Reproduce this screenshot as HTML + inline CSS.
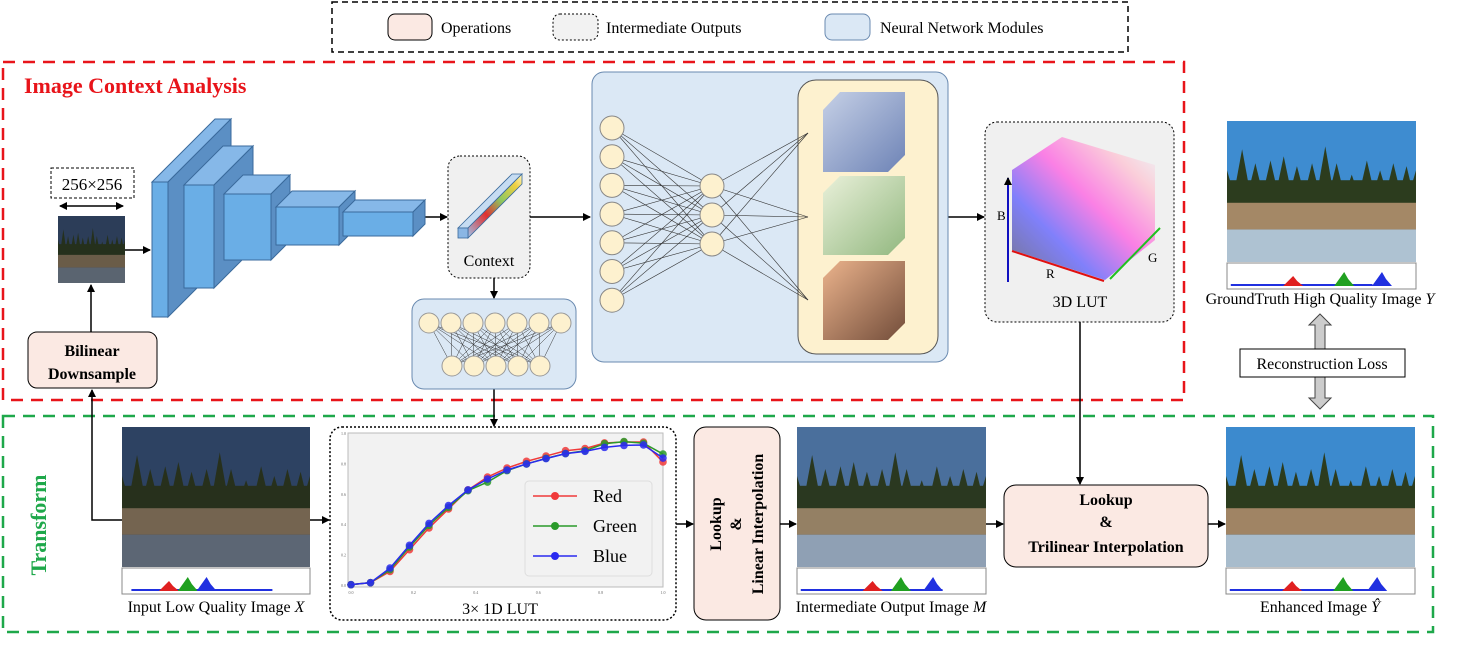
<!DOCTYPE html>
<html><head><meta charset="utf-8"><style>
html,body{margin:0;padding:0;background:#fff;}
svg{display:block;font-family:"Liberation Serif",serif;}
</style></head><body>
<svg id="s" width="1460" height="661" viewBox="0 0 1460 661" xmlns="http://www.w3.org/2000/svg">
<defs>
<marker id="ah" markerWidth="8" markerHeight="8" refX="7" refY="4" orient="auto" markerUnits="userSpaceOnUse"><path d="M0,0 L8,4 L0,8 z" fill="#000"/></marker>
<marker id="ahs" markerWidth="8" markerHeight="8" refX="1" refY="4" orient="auto" markerUnits="userSpaceOnUse"><path d="M8,0 L0,4 L8,8 z" fill="#000"/></marker>
<linearGradient id="ctxg" x1="0" y1="1" x2="1" y2="0"><stop offset="0" stop-color="#9fc2e8"/><stop offset="0.35" stop-color="#e03030"/><stop offset="0.6" stop-color="#8cc860"/><stop offset="0.85" stop-color="#f0d040"/><stop offset="1" stop-color="#fff6c8"/></linearGradient>
<linearGradient id="cubeB" x1="0" y1="0" x2="1" y2="1"><stop offset="0" stop-color="#b8c8ec"/><stop offset="1" stop-color="#4a68b0"/></linearGradient>
<linearGradient id="cubeG" x1="0" y1="0" x2="1" y2="1"><stop offset="0" stop-color="#e4f0dc"/><stop offset="1" stop-color="#78aa6c"/></linearGradient>
<linearGradient id="cubeR" x1="0" y1="0" x2="1" y2="1"><stop offset="0" stop-color="#e8a880"/><stop offset="1" stop-color="#5a3020"/></linearGradient>
<linearGradient id="lutg" x1="0" y1="1" x2="1" y2="0"><stop offset="0" stop-color="#404060"/><stop offset="0.3" stop-color="#5050ff"/><stop offset="0.55" stop-color="#ff50e0"/><stop offset="0.8" stop-color="#ffc0d0"/><stop offset="1" stop-color="#e8ffff"/></linearGradient>
</defs>

<g>
<rect x="332" y="2" width="796" height="50" fill="none" stroke="#000" stroke-width="1.5" stroke-dasharray="6,4"/>
<rect x="388" y="14" width="44" height="26" rx="7" fill="#fbe9e3" stroke="#000"/>
<text x="441" y="33" font-size="16">Operations</text>
<rect x="553" y="14" width="45" height="26" rx="7" fill="#f2f2f2" stroke="#000" stroke-dasharray="2,2"/>
<text x="606" y="33" font-size="16">Intermediate Outputs</text>
<rect x="825" y="14" width="45" height="26" rx="7" fill="#dbe8f5" stroke="#6a8ab0"/>
<text x="880" y="33" font-size="16">Neural Network Modules</text>
</g>

<rect x="3" y="62" width="1181" height="338" fill="none" stroke="#e8141a" stroke-width="2.5" stroke-dasharray="12,8"/>
<text x="24" y="93" font-size="22" font-weight="bold" fill="#e8141a">Image Context Analysis</text>
<rect x="3" y="416" width="1430" height="216" fill="none" stroke="#1ea84a" stroke-width="2.5" stroke-dasharray="12,8"/>
<text transform="translate(46,525) rotate(-90)" text-anchor="middle" font-size="22" font-weight="bold" fill="#1ea84a">Transform</text>

<rect x="51" y="168" width="83" height="30" fill="#fff" stroke="#000" stroke-dasharray="3,2"/>
<text x="92" y="190" font-size="17" text-anchor="middle">256×256</text>
<line x1="60" y1="206" x2="123" y2="206" stroke="#000" stroke-width="1.5" marker-end="url(#ah)" marker-start="url(#ahs)"/>
<g id="photos"></g>
<rect x="28" y="332" width="129" height="56" rx="9" fill="#fbe9e3" stroke="#000"/>
<text x="92" y="356" font-size="16" font-weight="bold" text-anchor="middle">Bilinear</text>
<text x="92" y="379" font-size="16" font-weight="bold" text-anchor="middle">Downsample</text>
<g stroke="#000" stroke-width="1.5" fill="none">
<line x1="91" y1="332" x2="91" y2="285" marker-end="url(#ah)"/>
<polyline points="122,520 92,520 92,390" marker-end="url(#ah)"/>
<line x1="125" y1="250" x2="150" y2="250" marker-end="url(#ah)"/>
<line x1="425" y1="217" x2="447" y2="217" marker-end="url(#ah)"/>
<line x1="530" y1="217" x2="590" y2="217" marker-end="url(#ah)"/>
<line x1="494" y1="278" x2="494" y2="298" marker-end="url(#ah)"/>
<line x1="494" y1="389" x2="494" y2="426" marker-end="url(#ah)"/>
<line x1="948" y1="217" x2="984" y2="217" marker-end="url(#ah)"/>
<line x1="1080" y1="322" x2="1080" y2="484" marker-end="url(#ah)"/>
<line x1="310" y1="520" x2="329" y2="520" marker-end="url(#ah)"/>
<line x1="676" y1="524" x2="693" y2="524" marker-end="url(#ah)"/>
<line x1="780" y1="524" x2="796" y2="524" marker-end="url(#ah)"/>
<line x1="986" y1="524" x2="1003" y2="524" marker-end="url(#ah)"/>
<line x1="1208" y1="524" x2="1225" y2="524" marker-end="url(#ah)"/>
</g>
<g id="cnn"></g>

<rect x="448" y="156" width="82" height="122" rx="12" fill="#f0f0f0" stroke="#000" stroke-dasharray="2,2"/>
<polygon points="458,228 512,174 522,174 468,228" fill="#c6dcf2" stroke="#3a6a9c" stroke-width="0.8"/>
<polygon points="468,228 522,174 522,184 468,238" fill="url(#ctxg)" stroke="#3a6a9c" stroke-width="0.8"/>
<rect x="458" y="228" width="10" height="10" fill="#8ab6e4" stroke="#3a6a9c" stroke-width="0.8"/>
<text x="489" y="266" font-size="16" text-anchor="middle">Context</text>

<rect x="412" y="299" width="164" height="90" rx="12" fill="#dbe8f5" stroke="#6a8ab0"/>
<g id="smallnn"></g>

<rect x="592" y="72" width="356" height="290" rx="12" fill="#dbe8f5" stroke="#6a8ab0"/>
<rect x="798" y="80" width="140" height="274" rx="18" fill="#fdf1cf" stroke="#555"/>
<g id="bignn"></g>
<g>
<polygon points="823,110 840,92 905,92 905,155 888,172 823,172" fill="url(#cubeB)" opacity="0.8"/>
<polygon points="823,193 840,176 905,176 905,238 888,255 823,255" fill="url(#cubeG)" opacity="0.8"/>
<polygon points="823,278 840,261 905,261 905,323 888,340 823,340" fill="url(#cubeR)" opacity="0.85"/>
</g>

<rect x="985" y="122" width="189" height="200" rx="12" fill="#f0f0f0" stroke="#000" stroke-dasharray="2,2"/>
<polygon points="1012,170 1062,137 1155,165 1155,240 1105,280 1012,250" fill="url(#lutg)" opacity="0.7"/>
<g stroke-width="2">
<line x1="1008" y1="282" x2="1008" y2="178" stroke="#1010c0" marker-end="url(#ah)"/>
<line x1="1012" y1="251" x2="1104" y2="281" stroke="#e01010"/>
<line x1="1110" y1="279" x2="1160" y2="228" stroke="#20c020"/>
</g>
<text x="997" y="220" font-size="13">B</text><text x="1046" y="278" font-size="13">R</text><text x="1148" y="262" font-size="13">G</text>
<text x="1080" y="307" font-size="16" text-anchor="middle">3D LUT</text>

<text x="1320" y="304" font-size="16" text-anchor="middle">GroundTruth High Quality Image <tspan font-style="italic">Y</tspan></text>
<polygon points="1320,314 1331,325 1325,325 1325,398 1331,398 1320,409 1309,398 1315,398 1315,325 1309,325" fill="#ccc" stroke="#444"/>
<rect x="1240" y="349" width="165" height="28" fill="#fff" stroke="#000"/>
<text x="1322" y="369" font-size="16" text-anchor="middle">Reconstruction Loss</text>

<text x="216" y="612" font-size="16" text-anchor="middle">Input Low Quality Image <tspan font-style="italic">X</tspan></text>
<rect x="330" y="427" width="346" height="193" rx="12" fill="#fff" stroke="#000" stroke-width="1.5" stroke-dasharray="2,2"/>
<g id="chart"></g>
<text x="500" y="614" font-size="16" text-anchor="middle">3× 1D LUT</text>

<rect x="694" y="427" width="86" height="193" rx="12" fill="#fbe9e3" stroke="#000"/>
<text transform="translate(737,524) rotate(-90)" font-size="16" font-weight="bold" text-anchor="middle"><tspan x="0" y="-16">Lookup</tspan><tspan x="0" y="4">&amp;</tspan><tspan x="0" y="26">Linear Interpolation</tspan></text>
<text x="891" y="612" font-size="16" text-anchor="middle">Intermediate Output Image <tspan font-style="italic">M</tspan></text>

<rect x="1004" y="485" width="204" height="82" rx="12" fill="#fbe9e3" stroke="#000"/>
<text x="1106" y="505" font-size="16" font-weight="bold" text-anchor="middle">Lookup</text>
<text x="1106" y="527" font-size="16" font-weight="bold" text-anchor="middle">&amp;</text>
<text x="1106" y="552" font-size="16" font-weight="bold" text-anchor="middle">Trilinear Interpolation</text>
<text x="1320" y="612" font-size="16" text-anchor="middle">Enhanced Image <tspan font-style="italic">Ŷ</tspan></text>
</svg>
<script>
const NS="http://www.w3.org/2000/svg";
function mk(p,tag,at){const e=document.createElementNS(NS,tag);for(const k in at)e.setAttribute(k,at[k]);p.appendChild(e);return e;}
const lutX=[0,0.0625,0.125,0.1875,0.25,0.3125,0.375,0.4375,0.5,0.5625,0.625,0.6875,0.75,0.8125,0.875,0.9375,1];
const redVals=[0.009,0.022,0.096,0.239,0.382,0.507,0.632,0.717,0.776,0.820,0.855,0.890,0.904,0.941,0.947,0.947,0.816];
const greenVals=[0.009,0.022,0.107,0.257,0.399,0.518,0.627,0.684,0.759,0.803,0.840,0.871,0.890,0.936,0.950,0.939,0.868];
const blueVals=[0.009,0.022,0.118,0.268,0.412,0.529,0.632,0.704,0.763,0.803,0.838,0.871,0.886,0.912,0.925,0.928,0.842];
const seriesNames=["Red","Green","Blue"];
const tickLabels=["0.0","0.2","0.4","0.6","0.8","1.0"];

const ch=document.getElementById('chart');
const px=v=>351+v*312, py=v=>586-v*152;
mk(ch,'rect',{x:348,y:433,width:315,height:154,fill:'#f2f2f2',stroke:'#bbb'});
tickLabels.forEach((t,i)=>{const v=i*0.2;
 const a=mk(ch,'text',{x:px(v),y:594,'font-size':4,'text-anchor':'middle',fill:'#666'});a.textContent=t;
 const b=mk(ch,'text',{x:346,y:py(v)+1,'font-size':4,'text-anchor':'end',fill:'#666'});b.textContent=t;});
const cols=["#f03a3a","#2a9a2a","#2a2af0"];
[redVals,greenVals,blueVals].forEach((vals,si)=>{
 const l=mk(ch,'polyline',{points:vals.map((v,i)=>px(lutX[i])+','+py(v)).join(' '),fill:'none',stroke:cols[si],'stroke-width':1.5});
 
 
 vals.forEach((v,i)=>{const c=mk(ch,'circle',{cx:px(lutX[i]),cy:py(v),r:3.8,fill:cols[si],opacity:0.85});
  
  });
});
const lg=mk(ch,'rect',{x:525,y:481,width:127,height:95,rx:4,fill:'#f2f2f2',stroke:'#ddd'});


seriesNames.forEach((n,i)=>{const y=496+i*30;
 mk(ch,'line',{x1:533,y1:y,x2:577,y2:y,stroke:cols[i],'stroke-width':1.5});
 mk(ch,'circle',{cx:555,cy:y,r:4,fill:cols[i]});
 const t=mk(ch,'text',{x:593,y:y+6,'font-size':18});t.textContent=n;
 
 });

const cnn=document.getElementById('cnn');
[[152,182,16,135,63],[184,185,30,103,39],[224,194,47,66,19],[276,207,63,38,16],[343,212,70,24,12]].forEach(b=>{
 const [x,y,w,h,d]=b;
 mk(cnn,'polygon',{points:`${x},${y} ${x+d},${y-d} ${x+w+d},${y-d} ${x+w},${y}`,fill:'#86b8e8',stroke:'#3a6a9c'});
 mk(cnn,'polygon',{points:`${x+w},${y} ${x+w+d},${y-d} ${x+w+d},${y+h-d} ${x+w},${y+h}`,fill:'#5b8fc4',stroke:'#3a6a9c'});
 mk(cnn,'rect',{x:x,y:y,width:w,height:h,fill:'#6aaee6',stroke:'#3a6a9c'});
});

const sn=document.getElementById('smallnn');
const top7=[0,1,2,3,4,5,6].map(i=>[429+i*22,323]), bot5=[0,1,2,3,4].map(i=>[452+i*22,366]);
top7.forEach(a=>bot5.forEach(b=>mk(sn,'line',{x1:a[0],y1:a[1],x2:b[0],y2:b[1],stroke:'#333','stroke-width':0.5})));
top7.concat(bot5).forEach(p=>mk(sn,'circle',{cx:p[0],cy:p[1],r:10,fill:'#fdf1cf',stroke:'#999'}));

const bn=document.getElementById('bignn');
const l1=[0,1,2,3,4,5,6].map(i=>[612,128+i*28.7]), l2=[0,1,2].map(i=>[712,186+i*29]), l3=[[808,133],[808,217],[808,300]];
l1.forEach(a=>l2.forEach(b=>mk(bn,'line',{x1:a[0],y1:a[1],x2:b[0],y2:b[1],stroke:'#333','stroke-width':0.6})));
l2.forEach(a=>l3.forEach(b=>mk(bn,'line',{x1:a[0],y1:a[1],x2:b[0],y2:b[1],stroke:'#333','stroke-width':0.6})));
l1.concat(l2).forEach(p=>mk(bn,'circle',{cx:p[0],cy:p[1],r:12,fill:'#fdf1cf',stroke:'#888'}));

const ph=document.getElementById('photos');
function photo(x,y,w,h,sky,tree,rock,water,name,hist){
 const g=mk(ph,'g',{});
 
 
 mk(g,'rect',{x:x,y:y,width:w,height:h,fill:sky});
 const peaks=[0.0,0.08,0.15,0.23,0.3,0.37,0.45,0.52,0.58,0.66,0.74,0.81,0.88,0.95,1];
 const hts=[0.35,0.2,0.3,0.28,0.25,0.32,0.3,0.18,0.3,0.38,0.28,0.35,0.3,0.32,0.35];
 peaks.forEach((p,i)=>{const cx=x+p*w, tw=w*0.055;
  mk(g,'polygon',{points:`${Math.max(x,cx-tw)},${y+h*0.6} ${cx},${y+h*hts[i]} ${Math.min(x+w,cx+tw)},${y+h*0.6}`,fill:tree});});
 mk(g,'rect',{x:x,y:y+h*0.42,width:w,height:h*0.2,fill:tree});
 mk(g,'rect',{x:x,y:y+h*0.58,width:w,height:h*0.19,fill:rock});
 mk(g,'rect',{x:x,y:y+h*0.77,width:w,height:h*0.23,fill:water});
 if(hist){
  mk(g,'rect',{x:x,y:y+h+1,width:w,height:26,fill:'#fff',stroke:'#888'});
  const hb=y+h+24;
  mk(g,'rect',{x:x+hist[0]*w,y:hb-2,width:w*0.75,height:2,fill:'#2030e0'});
  [[hist[1],'#e02020',10],[hist[2],'#20a020',14],[hist[3],'#2030e0',14]].forEach(s=>{
   mk(g,'polygon',{points:`${x+s[0]*w-10},${hb} ${x+s[0]*w-4},${hb-s[2]*0.6} ${x+s[0]*w},${hb-s[2]} ${x+s[0]*w+4},${hb-s[2]*0.5} ${x+s[0]*w+10},${hb}`,fill:s[1]});});
 }
}
photo(58,216,67,67,'#2c3d58','#25301c','#6a5c48','#5a6470','downsampled-image',null);
photo(122,427,188,140,'#2d4262','#27301c','#746450','#5c6674','input-image',[0.05,0.25,0.35,0.45]);
photo(797,427,189,140,'#4a6f9c','#2a3820','#948064','#8fa0b4','intermediate-image',[0.02,0.4,0.55,0.72]);
photo(1226,427,189,140,'#3c8ace','#2c3c1e','#a08464','#a8bccc','enhanced-image',[0.02,0.35,0.62,0.8]);
photo(1227,121,189,141,'#3e8cd0','#2c3c1e','#a48866','#aec2d2','groundtruth-image',[0.02,0.35,0.62,0.82]);
</script>
</body></html>
